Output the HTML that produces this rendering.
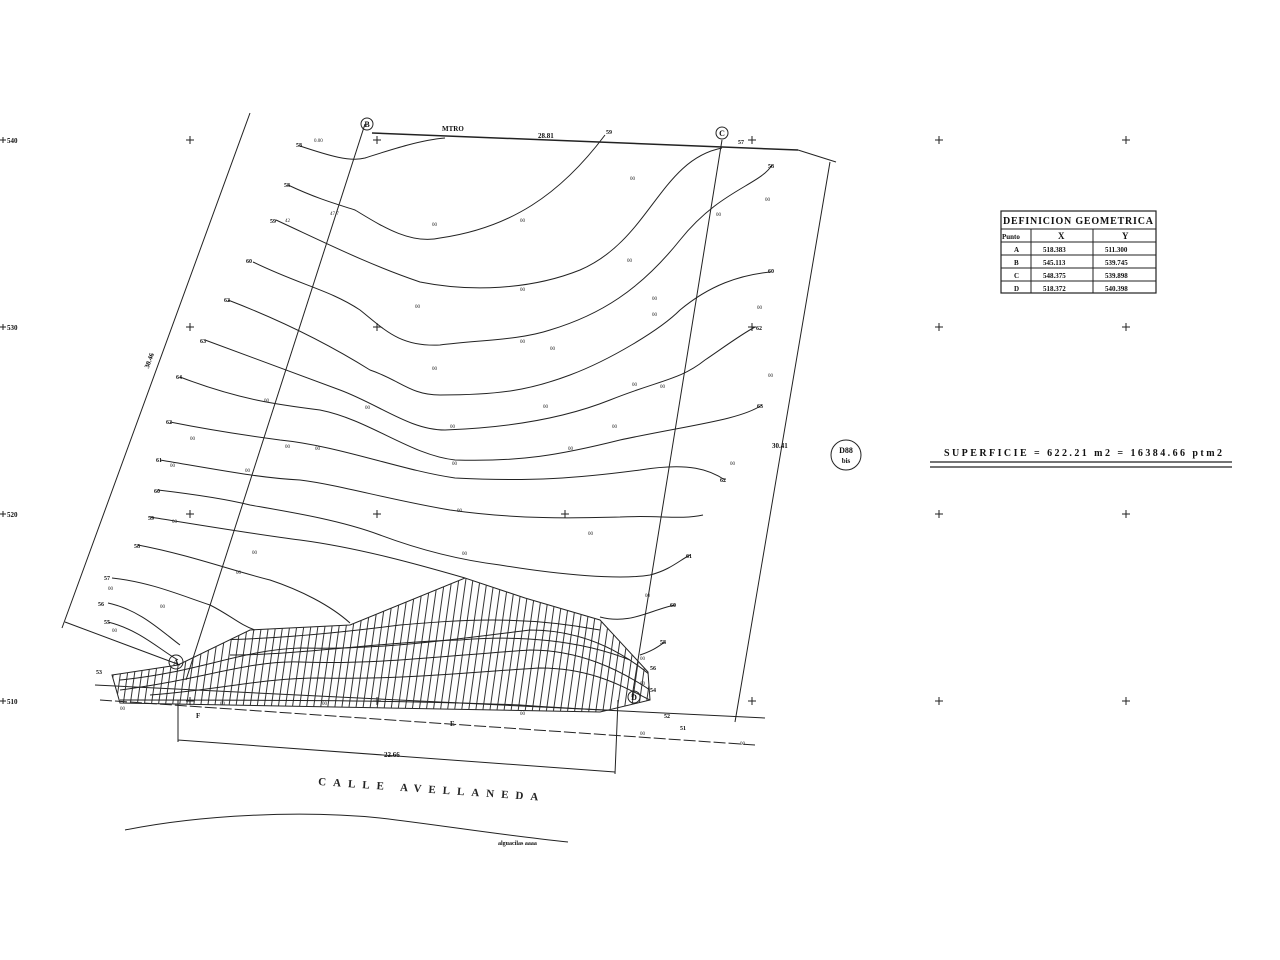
<!DOCTYPE html>
<html><head><meta charset="utf-8"><style>
html,body{margin:0;padding:0;background:#fff;}
svg{display:block;font-family:"Liberation Serif",serif;}
</style></head><body>
<svg width="1280" height="960" viewBox="0 0 1280 960" xmlns="http://www.w3.org/2000/svg">
<defs>
<pattern id="vh" width="7" height="10" patternUnits="userSpaceOnUse" patternTransform="rotate(8)">
<line x1="3" y1="0" x2="3" y2="10" stroke="#333" stroke-width="1"/>
</pattern>
<clipPath id="hc"><polygon points="112,675 178,665 250,630 350,625 465,578 525,598 600,620 648,672 650,700 600,712 120,703"/></clipPath>
</defs>
<g stroke="#222" stroke-width="1" fill="none">
<!-- crosses -->
<g id="cr">
<path d="M186,140h8M190,136v8 M373,140h8M377,136v8 M748,140h8M752,136v8 M935,140h8M939,136v8 M1122,140h8M1126,136v8"/>
<path d="M186,327h8M190,323v8 M373,327h8M377,323v8 M748,327h8M752,323v8 M935,327h8M939,323v8 M1122,327h8M1126,323v8"/>
<path d="M186,514h8M190,510v8 M373,514h8M377,510v8 M561,514h8M565,510v8 M935,514h8M939,510v8 M1122,514h8M1126,510v8"/>
<path d="M186,701h8M190,697v8 M373,701h8M377,697v8 M748,701h8M752,697v8 M935,701h8M939,697v8 M1122,701h8M1126,697v8"/>
<path d="M0,140h6M3,137v6 M0,327h6M3,324v6 M0,514h6M3,511v6 M0,701h6M3,698v6"/>
</g>
<!-- dimension lines -->
<path d="M250,113 L62,628 M65,622 L180,665"/>
<path d="M830,162 L735,722 M798,150 L836,162"/>
<path d="M178,740 L615,772 M178,700 L178,742 M618,700 L615,774"/>
<!-- parcel -->
<path d="M365,124 L186,680"/>
<path d="M722,140 L632,697"/>
<path d="M372,133 L798,150" stroke-width="1.5"/>
<path d="M95,685 L765,718"/>
<path d="M100,700 L755,745" stroke-dasharray="12,3"/>
<path d="M125,830 C200,815 300,810 380,818 C440,825 500,835 568,842"/>
<!-- contours -->
<path d="M300,146 C330,156 350,162 365,158 C390,150 420,140 445,138"/>
<path d="M288,185 C320,200 340,205 355,210 C380,225 410,245 440,238 C510,228 560,195 605,135"/>
<path d="M276,220 C330,245 370,265 420,282 C470,292 530,290 580,270 C650,240 660,160 722,148"/>
<path d="M253,262 C300,285 330,290 360,310 C385,330 400,347 440,345 C480,340 520,340 550,330 C600,315 640,290 680,240 C720,190 760,185 772,165"/>
<path d="M228,300 C280,320 330,345 370,370 C400,380 410,395 440,395 C500,395 530,390 570,375 C610,360 660,330 680,310 C710,285 740,275 770,272"/>
<path d="M205,340 C260,360 300,375 340,390 C380,405 410,430 445,430 C500,428 560,420 610,400 C660,380 680,380 705,360 C720,350 740,335 755,327"/>
<path d="M180,377 C240,400 280,405 320,410 C370,420 410,455 455,460 C520,462 560,455 620,440 C690,425 740,420 762,405"/>
<path d="M170,422 C210,430 250,436 280,440 C340,446 400,470 455,478 C530,482 580,478 640,470 C690,462 710,470 725,480"/>
<path d="M160,460 C220,470 260,478 300,480 C340,485 390,500 450,510 C520,520 580,518 620,517 C660,515 680,520 703,515"/>
<path d="M158,490 C200,495 230,500 250,505 C290,512 340,520 380,535 C420,550 460,560 500,565 C560,575 620,580 650,575 C670,570 680,560 690,555"/>
<path d="M150,517 C200,525 260,535 300,540 C360,548 420,565 465,578"/>
<path d="M138,545 C190,555 230,570 270,580 C300,590 330,605 350,623"/>
<path d="M112,578 C150,582 180,595 210,605 C230,615 240,625 255,630"/>
<path d="M108,603 C140,610 160,630 180,645"/>
<path d="M108,622 C140,630 160,650 178,660"/>
<path d="M600,617 C630,625 650,610 675,605"/>
<path d="M640,655 C655,650 660,645 665,642"/>
<!-- hatched area -->
<polygon points="112,675 178,665 250,630 350,625 465,578 525,598 600,620 648,672 650,700 600,712 120,703"/>
<g clip-path="url(#hc)">
<rect x="100" y="570" width="560" height="150" fill="url(#vh)" stroke="none"/>
<path d="M120,690 C200,680 250,660 300,662 C380,665 450,655 530,650 C580,650 620,670 650,690"/>
<path d="M120,680 C200,672 240,650 300,648 C380,650 450,640 530,630 C580,630 620,650 650,675"/>
<path d="M150,695 C220,690 260,678 320,678 C400,680 470,672 540,668 C590,668 620,685 650,700"/>
<path d="M200,640 C260,640 320,635 400,625 C460,620 520,615 600,630"/>
<path d="M230,655 C300,655 380,642 460,640 C520,635 580,640 630,660"/>
<path d="M120,700 C250,700 400,700 520,705 C560,708 600,710 650,712"/>
</g>
<!-- circles -->
<circle cx="367" cy="124" r="6"/>
<circle cx="722" cy="133" r="6"/>
<circle cx="176" cy="662" r="7"/>
<circle cx="634" cy="697" r="6"/>
<circle cx="846" cy="455" r="15"/>
<!-- table -->
<rect x="1001" y="211" width="155" height="82" stroke-width="1.2"/>
<path d="M1001,229h155 M1001,242h155 M1001,255h155 M1001,268h155 M1001,281h155 M1031,229v64 M1093,229v64"/>
<path d="M930,462h302 M930,467h302" stroke-width="1.2"/>
</g>
<g font-size="7" fill="#111" font-weight="bold">
<text x="7" y="143">540</text><text x="7" y="330">530</text><text x="7" y="517">520</text><text x="7" y="704">510</text>
<text x="367" y="127" font-size="8" text-anchor="middle">B</text>
<text x="722" y="136" font-size="8" text-anchor="middle">C</text>
<text x="176" y="665" font-size="8" text-anchor="middle">A</text>
<text x="634" y="700" font-size="8" text-anchor="middle">D</text>
<text x="442" y="131">MTRO</text><text x="538" y="138">28.81</text>
<text x="146" y="365" transform="rotate(-70 150 365)">30.46</text>
<text x="772" y="448">30.41</text>
<text x="384" y="757">22.66</text>
<text x="846" y="453" text-anchor="middle" font-size="8">D88</text>
<text x="846" y="463" text-anchor="middle" font-size="7">bis</text>
<text x="196" y="718">F</text><text x="450" y="726">E</text>
<text x="498" y="845" font-size="6">alguacilas aaaa</text>
</g>
<text x="318" y="785" font-size="11" font-weight="bold" fill="#222" letter-spacing="7" transform="rotate(4 318 785)">CALLE  AVELLANEDA</text>
<g font-size="9" font-weight="bold" fill="#111">
<text x="1003" y="224" font-size="10" textLength="150">DEFINICION GEOMETRICA</text>
<text x="1002" y="239" font-size="7">Punto</text><text x="1058" y="239">X</text><text x="1122" y="239">Y</text>
<text x="1014" y="252" font-size="7">A</text><text x="1043" y="252" font-size="7">518.383</text><text x="1105" y="252" font-size="7">511.300</text>
<text x="1014" y="265" font-size="7">B</text><text x="1043" y="265" font-size="7">545.113</text><text x="1105" y="265" font-size="7">539.745</text>
<text x="1014" y="278" font-size="7">C</text><text x="1043" y="278" font-size="7">548.375</text><text x="1105" y="278" font-size="7">539.898</text>
<text x="1014" y="291" font-size="7">D</text><text x="1043" y="291" font-size="7">518.372</text><text x="1105" y="291" font-size="7">540.398</text>
<text x="944" y="456" font-size="10" textLength="278">SUPERFICIE = 622.21 m2 = 16384.66 ptm2</text>
</g>
<g font-size="5" fill="#222">
<text x="314" y="142">0.00</text><text x="330" y="215">47.7</text><text x="285" y="222">42</text><text x="432" y="226">00</text><text x="520" y="222">00</text>
<text x="630" y="180">00</text><text x="716" y="216">00</text><text x="765" y="201">00</text><text x="627" y="262">00</text><text x="520" y="291">00</text>
<text x="415" y="308">00</text><text x="520" y="343">00</text><text x="550" y="350">00</text><text x="652" y="300">00</text><text x="652" y="316">00</text>
<text x="757" y="309">00</text><text x="432" y="370">00</text><text x="365" y="409">00</text><text x="264" y="402">00</text><text x="450" y="428">00</text>
<text x="543" y="408">00</text><text x="612" y="428">00</text><text x="632" y="386">00</text><text x="660" y="388">00</text><text x="768" y="377">00</text>
<text x="190" y="440">00</text><text x="285" y="448">00</text><text x="315" y="450">00</text><text x="452" y="465">00</text><text x="568" y="450">00</text>
<text x="730" y="465">00</text><text x="170" y="467">00</text><text x="245" y="472">00</text><text x="457" y="512">00</text><text x="588" y="535">00</text>
<text x="172" y="523">00</text><text x="252" y="554">00</text><text x="462" y="555">00</text><text x="236" y="574">00</text><text x="645" y="597">00</text>
<text x="160" y="608">00</text><text x="108" y="590">00</text><text x="112" y="632">00</text><text x="640" y="660">00</text><text x="640" y="685">00</text>
<text x="120" y="710">00</text><text x="220" y="705">00</text><text x="322" y="705">00</text><text x="520" y="715">00</text><text x="640" y="735">00</text><text x="740" y="745">00</text>
</g>
<g font-size="6" font-weight="bold" fill="#111">
<text x="296" y="147">58</text><text x="284" y="187">58</text><text x="270" y="223">59</text><text x="246" y="263">60</text><text x="224" y="302">62</text>
<text x="200" y="343">63</text><text x="176" y="379">64</text><text x="166" y="424">62</text><text x="156" y="462">61</text><text x="154" y="493">60</text>
<text x="148" y="520">59</text><text x="134" y="548">58</text><text x="104" y="580">57</text><text x="98" y="606">56</text><text x="104" y="624">55</text>
<text x="96" y="674">53</text><text x="606" y="134">59</text><text x="768" y="168">58</text><text x="768" y="273">60</text><text x="756" y="330">62</text>
<text x="757" y="408">63</text><text x="720" y="482">62</text><text x="686" y="558">61</text><text x="670" y="607">60</text><text x="660" y="644">58</text>
<text x="650" y="670">56</text><text x="650" y="692">54</text><text x="664" y="718">52</text><text x="680" y="730">51</text><text x="738" y="144">57</text>
</g>
</svg>
</body></html>
